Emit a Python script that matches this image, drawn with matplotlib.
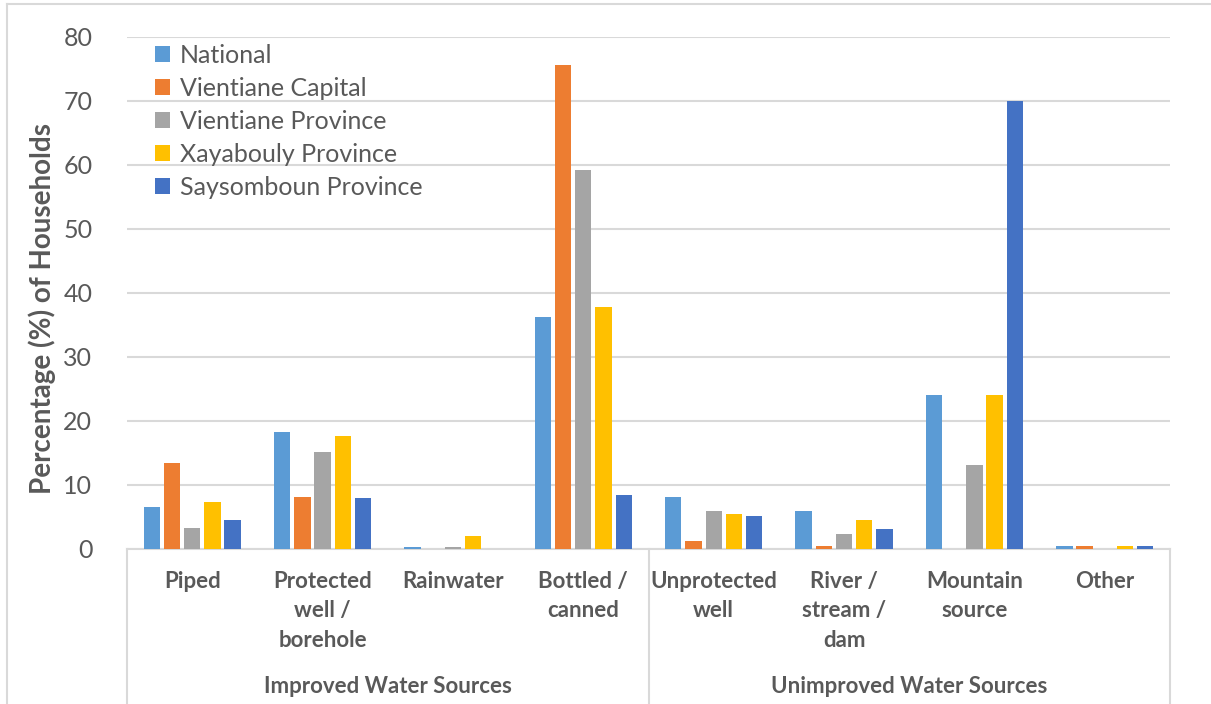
import numpy as np
import matplotlib
matplotlib.use("Agg")
import matplotlib.pyplot as plt
from matplotlib.lines import Line2D

plt.rcParams['font.family'] = ['Lato', 'DejaVu Sans']

categories = ["Piped", "Protected\nwell /\nborehole", "Rainwater", "Bottled /\ncanned",
              "Unprotected\nwell", "River /\nstream /\ndam", "Mountain\nsource", "Other"]
groups = ["Improved Water Sources", "Unimproved Water Sources"]
series = ["National", "Vientiane Capital", "Vientiane Province",
          "Xayabouly Province", "Saysomboun Province"]

national = [6.5, 18.3, 0.3, 36.2, 8.1, 5.9, 24.1, 0.5]
vientiane_capital = [13.4, 8.1, 0.0, 75.6, 1.3, 0.5, 0.0, 0.5]
vientiane_province = [3.3, 15.1, 0.3, 59.2, 6.0, 2.3, 13.1, 0.0]
xayabouly = [7.3, 17.7, 2.1, 37.8, 5.5, 4.5, 24.1, 0.5]
saysomboun = [4.6, 7.9, 0.0, 8.5, 5.1, 3.1, 70.0, 0.5]

colors = ["#5B9BD5", "#ED7D31", "#A5A5A5", "#FFC000", "#4472C4"]
text_gray = "#595959"
line_gray = "#D9D9D9"

W, H = 1211, 704
fig = plt.figure(figsize=(W / 100, H / 100), dpi=100)
ax = fig.add_axes([127 / W, 1 - 549 / H, (1170 - 127) / W, 512 / H])

x = np.arange(len(categories))
step = 0.155
bw = 0.125
all_vals = [national, vientiane_capital, vientiane_province, xayabouly, saysomboun]
for i, (vals, name, c) in enumerate(zip(all_vals, series, colors)):
    ax.bar(x + (i - 2) * step, vals, width=bw, color=c, label=name,
           linewidth=0, zorder=3)

ax.set_xlim(-0.5, len(categories) - 0.5)
ax.set_ylim(0, 80)
ax.set_yticks(np.arange(0, 81, 10))
ax.yaxis.grid(True, color=line_gray, linewidth=1.5, zorder=0)
ax.set_axisbelow(True)
for s in ["top", "right", "left"]:
    ax.spines[s].set_visible(False)
ax.spines["bottom"].set_color(line_gray)
ax.spines["bottom"].set_linewidth(1.5)
ax.spines["bottom"].set_zorder(2)
ax.tick_params(axis="y", length=0, labelsize=18, labelcolor=text_gray, pad=25)
ax.tick_params(axis="x", length=0, labelbottom=False)

# category labels and group labels under the axis
tr = ax.get_xaxis_transform()
for xi, lab in zip(x, categories):
    ax.text(xi, -0.042, lab, transform=tr, ha="center", va="top", fontsize=16,
            fontweight="bold", color=text_gray, linespacing=1.52)
ax.text(1.5, -0.2695, groups[0], transform=tr, ha="center", va="center",
        fontsize=16, fontweight="bold", color=text_gray)
ax.text(5.5, -0.2695, groups[1], transform=tr, ha="center", va="center",
        fontsize=16, fontweight="bold", color=text_gray)
for xv in [-0.5, 3.5, 7.5]:
    ax.add_line(Line2D([xv, xv], [0, -0.31], transform=tr, color=line_gray,
                       linewidth=1.5, clip_on=False))

fig.text(42 / W, 1 - 308 / H, "Percentage (%) of Households", rotation=90,
         ha="center", va="center", fontsize=20, fontweight="bold", color=text_gray)

leg = ax.legend(loc="upper left", bbox_to_anchor=(155 / W, 1 - 44 / H),
                bbox_transform=fig.transFigure, frameon=False, fontsize=18,
                handlelength=0.6, handleheight=0.6, handletextpad=0.4,
                labelspacing=0.4, borderpad=0, borderaxespad=0)
for t in leg.get_texts():
    t.set_color(text_gray)

# chart area border (left and top)
fig.add_artist(Line2D([7 / W, 7 / W], [0, 1 - 4 / H], transform=fig.transFigure,
                      color=line_gray, linewidth=1.5))
fig.add_artist(Line2D([7 / W, 1], [1 - 4 / H, 1 - 4 / H], transform=fig.transFigure,
                      color=line_gray, linewidth=1.5))

fig.savefig("out.png", dpi=100)
